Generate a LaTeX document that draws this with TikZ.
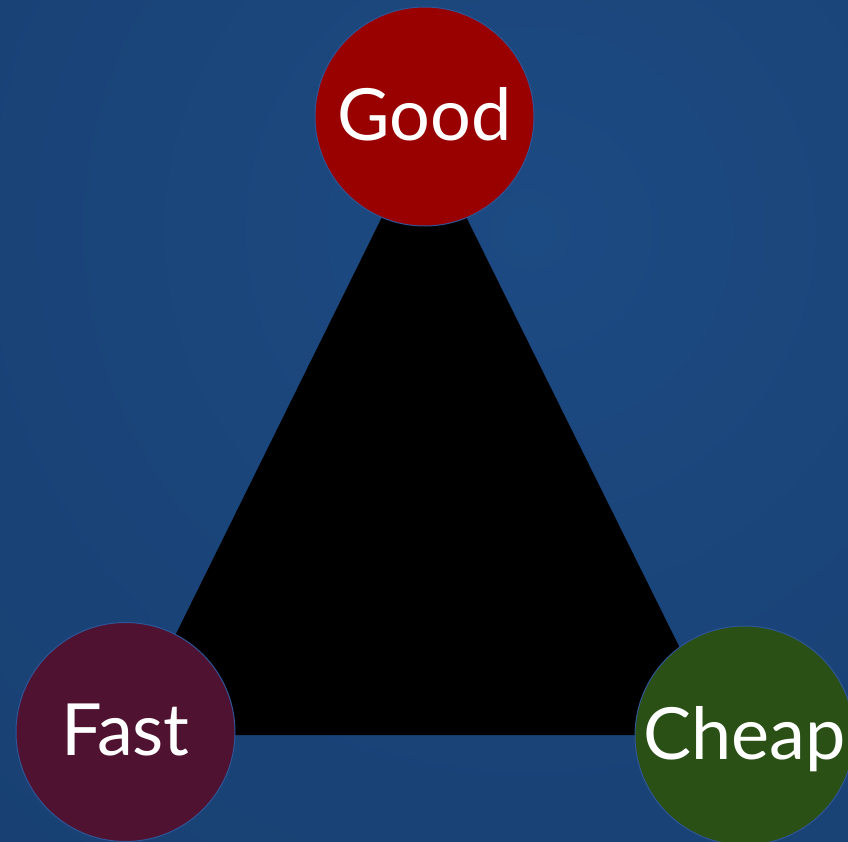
\documentclass[tikz,border=0pt]{standalone}
\usepackage{fontspec}
\setmainfont{Lato}
\usepackage{tikz}

\definecolor{bgin}{HTML}{1C4A82}
\definecolor{bgout}{HTML}{163A69}
\definecolor{goodred}{HTML}{990000}
\definecolor{fastplum}{HTML}{4F1230}
\definecolor{cheapgreen}{HTML}{2A5016}
\definecolor{ringblue}{HTML}{2F5597}

\tikzset{
    goal/.style={circle, draw=ringblue, line width=1pt, minimum size=219pt, inner sep=0pt,
        text=white, font=\fontsize{72}{86}\selectfont, text height=53pt, text depth=6pt},
}

\begin{document}
\begin{tikzpicture}[x=1pt,y=-1pt]
                \useasboundingbox (0,0) rectangle (848,841);
                
                % Background
                \begin{scope}
                    \clip (0,0) rectangle (848,841);
                    \shade[inner color=bgin, outer color=bgout] (530,230) circle (1300);
                \end{scope}
                
                % Triangle
                \coordinate (top) at (424,132);
                \coordinate (left) at (126,735);
                \coordinate (right) at (723,735);
                \fill[black] (top) -- (left) -- (right) -- cycle;
                
                % Corners
                \node[goal, fill=goodred] (good) at (424.5,116.5) {Good};
                \node[goal, fill=fastplum] (fast) at (125.5,732) {Fast};
                \node[goal, fill=cheapgreen] (cheap) at (744.5,735.5) {Cheap};
            \end{tikzpicture}
\end{document}
